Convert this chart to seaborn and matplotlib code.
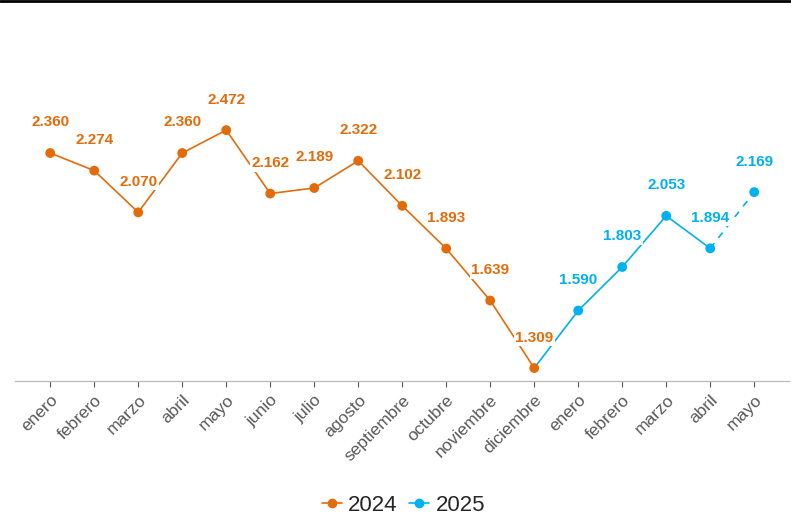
import matplotlib
matplotlib.use("Agg")
import matplotlib.pyplot as plt
from matplotlib.lines import Line2D
import seaborn as sns
import pandas as pd

# datos
meses = ["enero", "febrero", "marzo", "abril", "mayo", "junio", "julio", "agosto",
         "septiembre", "octubre", "noviembre", "diciembre",
         "enero", "febrero", "marzo", "abril", "mayo"]
valores_2024 = [2.360, 2.274, 2.070, 2.360, 2.472, 2.162, 2.189, 2.322, 2.102, 1.893, 1.639, 1.309]
valores_2025 = [1.590, 1.803, 2.053, 1.894, 2.169]
etiquetas_2024 = ["2.360", "2.274", "2.070", "2.360", "2.472", "2.162", "2.189", "2.322",
                  "2.102", "1.893", "1.639", "1.309"]
etiquetas_2025 = ["1.590", "1.803", "2.053", "1.894", "2.169"]

naranja = "#E36C0A"
azul = "#00B0F0"

sns.set_theme(style="white")
plt.rcParams["font.family"] = ["Liberation Sans", "DejaVu Sans"]

pos_2024 = list(range(len(valores_2024)))
pos_2025 = list(range(len(valores_2024), len(valores_2024) + len(valores_2025)))
df24 = pd.DataFrame({"x": pos_2024, "y": valores_2024})
df25 = pd.DataFrame({"x": pos_2025, "y": valores_2025})

fig = plt.figure(figsize=(7.91, 5.2), dpi=100)
ax = fig.add_axes([0.019, 0.267, 0.979, 0.70])

# lineas
sns.lineplot(data=df24, x="x", y="y", color=naranja, lw=1.2, ax=ax, zorder=2)
tramo = pd.DataFrame({"x": [pos_2024[-1]] + pos_2025[:4],
                      "y": [valores_2024[-1]] + valores_2025[:4]})
sns.lineplot(data=tramo, x="x", y="y", color=azul, lw=1.2, ax=ax, zorder=2)
sns.lineplot(data=df25.iloc[3:], x="x", y="y", color=azul, lw=1.2, ax=ax,
             linestyle=(0, (4, 4)), zorder=2)

# puntos
sns.scatterplot(data=df24, x="x", y="y", color=naranja, s=50, edgecolor="none", ax=ax, zorder=5)
sns.scatterplot(data=df25, x="x", y="y", color=azul, s=50, edgecolor="none", ax=ax, zorder=5)

# etiquetas de datos
for x, y, t in zip(pos_2024, valores_2024, etiquetas_2024):
    ax.annotate(t, (x, y), xytext=(0, 22), textcoords="offset points", ha="center", va="center",
                color=naranja, fontsize=11, fontweight="bold", zorder=4,
                bbox=dict(boxstyle="square,pad=0.1", fc="white", ec="none"))
for x, y, t in zip(pos_2025, valores_2025, etiquetas_2025):
    ax.annotate(t, (x, y), xytext=(0, 22), textcoords="offset points", ha="center", va="center",
                color=azul, fontsize=11, fontweight="bold", zorder=4,
                bbox=dict(boxstyle="square,pad=0.1", fc="white", ec="none"))

ax.set_xlim(-0.8, 16.8)
ax.set_ylim(1.245, 3.024)
ax.set_xticks(range(len(meses)))
ax.set_xticklabels(meses, rotation=45, ha="right", va="top", rotation_mode="anchor",
                   fontsize=12.5, color="#595959")
ax.set_yticks([])
ax.set_xlabel("")
ax.set_ylabel("")
ax.tick_params(axis="x", which="both", bottom=True, length=4, width=0.8, color="#595959", pad=4)
for lado in ["top", "right", "left"]:
    ax.spines[lado].set_visible(False)
ax.spines["bottom"].set_color("#BFBFBF")
ax.spines["bottom"].set_linewidth(1)

# leyenda
manejadores = [Line2D([], [], color=naranja, marker="o", markersize=6, lw=1.2),
               Line2D([], [], color=azul, marker="o", markersize=6, lw=1.2)]
fig.legend(manejadores, ["2024", "2025"], loc="center", bbox_to_anchor=(0.51, 0.028), ncol=2,
           frameon=False, fontsize=16, handlelength=0.9, handletextpad=0.3, columnspacing=0.5)

# linea negra superior
fig.add_artist(Line2D([0, 1], [0.998, 0.998], color="black", lw=2, transform=fig.transFigure))

fig.savefig("out.png", dpi=100)
